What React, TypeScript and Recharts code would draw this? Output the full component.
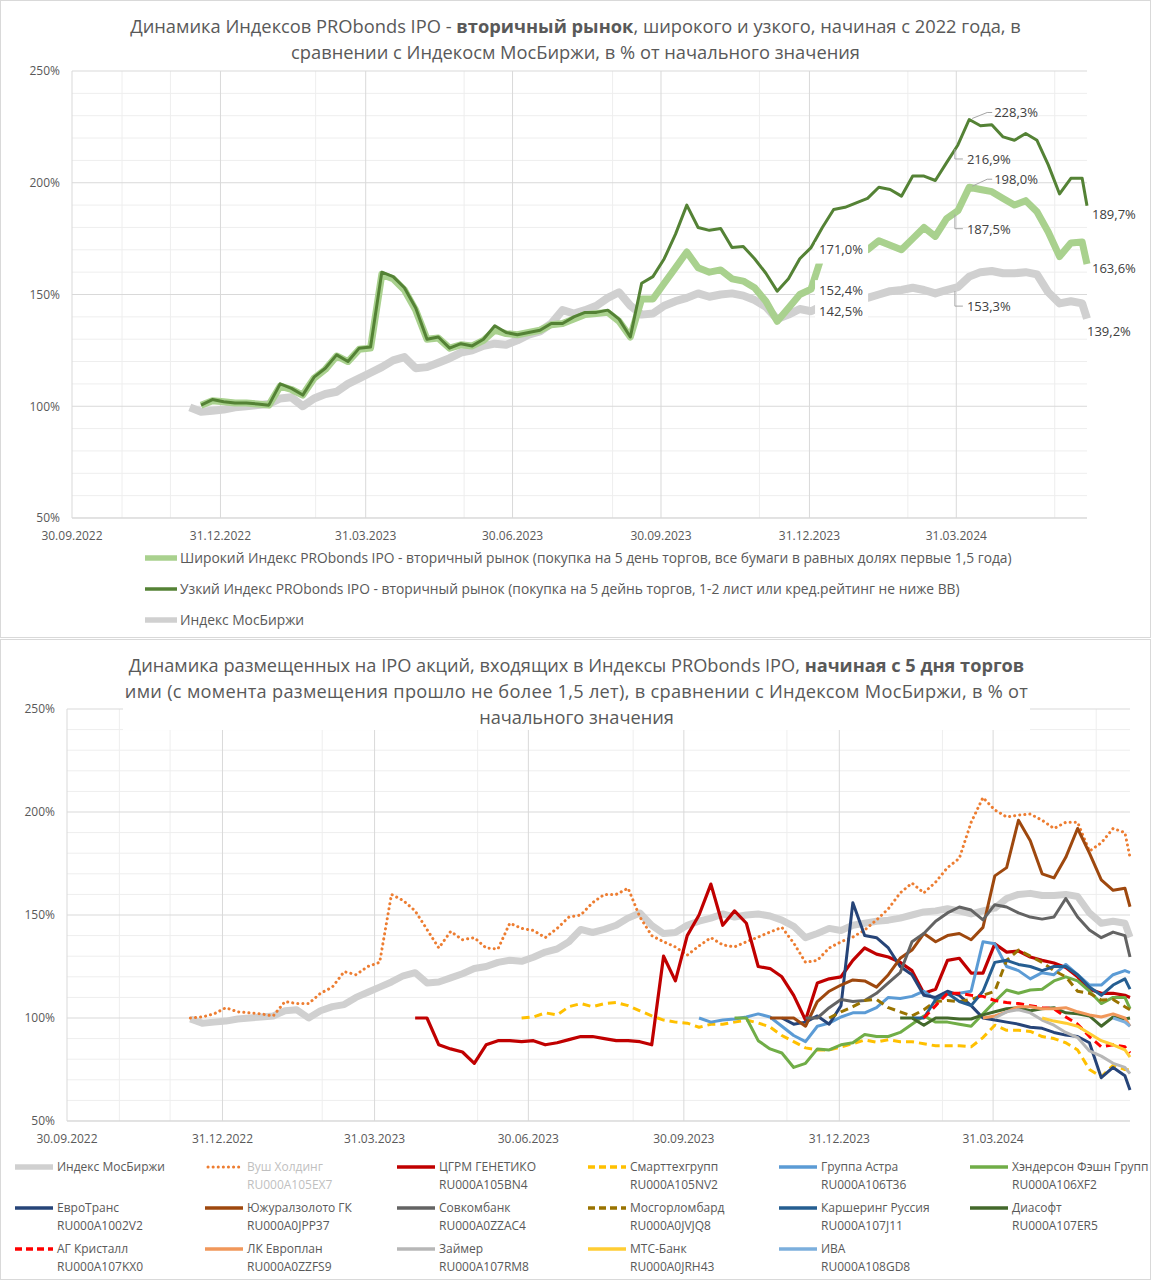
import React from 'react';
import { LineChart, Line, XAxis, YAxis, CartesianGrid } from 'recharts';

// ---------- axis / calendar ----------
const START_UTC = Date.UTC(2022, 8, 30); // 30.09.2022 = day 0
const FIRST_WEEK_DAY = 73; // 12.12.2022
const WEEK_COUNT = 80;
const LAST_DAY = 629; // 20.06.2024
const DAYS: number[] = [...Array.from({ length: WEEK_COUNT }, (_, k) => FIRST_WEEK_DAY + 7 * k), LAST_DAY];

const X_TICKS = [0, 92, 182, 273, 365, 457, 548];
const X_MINOR = [31, 61, 151, 243, 335, 426, 518, 609];
const Y_TICKS = [50, 100, 150, 200, 250];
const Y_MINOR = [60, 70, 80, 90, 110, 120, 130, 140, 160, 170, 180, 190, 210, 220, 230, 240];

// ---------- top chart series (weekly, from start index) ----------
const moexValues = [99.5, 97.5, 98, 98.5, 99.5, 100, 100.5, 101, 103.5, 104, 100, 103.5, 105.5, 106.5, 110, 112.5, 115, 117.5, 120.5, 122, 117, 117.5, 119.5, 121.5, 124, 125, 127, 128, 127.5, 129.5, 132, 133.5, 137, 143, 141.5, 143, 145, 148.5, 151, 145, 141, 141.5, 145, 147, 148.5, 150.5, 149, 150, 150.5, 149.5, 147.5, 144.5, 139, 141, 143.5, 142.5, 145, 146, 147, 147.5, 148.5, 150, 151.5, 152, 153, 152, 150.5, 152, 153.3, 158, 160, 160.5, 159.5, 159.5, 160, 159, 151, 146, 147, 146, 139.2];
const wideValues = [100.5, 102.5, 102, 101.5, 101.5, 101, 100.5, 109, 107.5, 105, 112.5, 116.5, 122.5, 120, 125.5, 126, 159, 157, 152, 143, 130, 130.5, 126, 127.5, 127, 129.5, 134, 132.5, 132, 133, 134, 136.5, 137, 139, 141, 141.5, 142, 138, 131, 148, 148, 155, 162, 169, 162, 160, 161, 157, 156, 153, 147, 138, 144, 150, 152.4, 168, 168.5, 169, 169.5, 170, 174, 172, 170, 175, 180, 176, 184, 187.5, 198.0, 197, 196, 193, 190, 192, 187, 178, 167, 173, 173.5, 163.6];
const narrowValues = [100.5, 103, 102, 101.5, 101.5, 101, 100.5, 110, 108, 105, 113, 117, 123, 120, 126, 126.5, 160, 158, 153, 144, 130, 131, 126, 128, 127, 130, 136, 133, 132, 133, 134, 137, 137, 140, 142, 142, 143, 139, 131, 155, 158, 166, 177, 190, 180, 178.7, 179.5, 171, 171.5, 166, 159.5, 151.5, 157, 166, 171.0, 180, 188, 189, 191, 193, 198, 197, 194, 203, 203, 201, 209, 216.9, 228.3, 225.5, 226, 220.5, 219, 222, 219, 208, 195, 202, 202, 189.7];

// ---------- bottom chart series (weekly, from start index) ----------
const whooshValues = [100, 100.5, 102, 105, 103, 102.5, 102, 101, 108, 107, 107, 112, 115, 122.5, 121, 125, 127, 160, 157, 152, 143, 134, 142, 138, 139, 134, 133.5, 146, 143.5, 142.5, 139, 143.5, 149, 150, 156, 160, 160, 163, 149, 140, 137, 134.5, 130.5, 135, 139, 135.5, 134.5, 137, 139.3, 141.7, 144, 136.4, 127, 128, 134, 137, 139.3, 142.7, 147.6, 153, 160.7, 165.5, 160.7, 166, 173, 177.5, 195, 207, 201, 197.6, 198.5, 199, 196, 192, 195, 195, 181, 185, 192, 190, 178];
const geneticoValues = [100, 100, 87, 85, 83.5, 78, 87, 89, 89, 88.5, 89, 87, 88, 89.5, 91, 91, 90, 89, 89, 88.5, 87, 130, 118, 140, 150, 165, 145, 152, 146, 125, 124, 120, 111, 99, 117, 119, 120, 128, 134, 131, 129.6, 127, 123, 112, 114, 128, 129, 121.8, 121.8, 136, 132, 132.5, 129.6, 128, 126.7, 124.5, 120, 114, 112, 112, 111, 110];
const smartValues = [100, 100.5, 102.5, 101.5, 105.5, 107, 105.5, 107, 107.5, 106, 103.5, 101, 99, 98, 97.5, 95.5, 97, 97, 98, 99, 97.6, 95.6, 91.5, 88.5, 85.5, 84.5, 84.5, 86, 87.5, 89.3, 88.3, 89.5, 88.5, 88.5, 87.5, 86.5, 86.5, 86.5, 86, 90.5, 96.5, 94, 94, 93.5, 91, 90, 88, 84.5, 75, 71.5, 77, 75, 74.8];
const astraValues = [100, 98, 99, 99.5, 100.5, 102, 100.5, 96, 91.5, 88.5, 96, 97.5, 100.5, 102.5, 102.5, 105, 110, 109.5, 110.5, 113, 109, 111.5, 112, 113, 137, 136, 125, 123, 119, 122, 121, 126, 121, 116, 116, 121, 123, 122];
const hendersonValues = [100, 100, 89, 85, 83, 76, 78, 85, 84.5, 87, 88, 92, 91, 91, 93, 97, 101, 98, 98, 97, 96, 102, 108, 113.6, 112, 113.6, 114, 118, 120, 118, 113, 107, 110, 110, 104.5];
const eurotransValues = [100, 97, 98, 101, 97, 106, 156, 140, 139, 134, 125, 121, 111, 110, 113, 111, 106, 100, 99, 98, 97, 95.5, 95, 93, 91.7, 91, 88, 71, 76, 72, 65];
const ugcValues = [100, 100, 100, 96, 108, 113, 116, 118.5, 118, 115, 121, 129, 133, 141, 137, 140, 141, 138, 144, 169, 173, 196, 186, 170, 168, 178, 192, 180, 167, 162, 163, 154];
const sovcomValues = [100, 100, 105, 109, 108, 108.5, 112, 117, 122, 137, 141, 147, 151, 153.9, 152.4, 147.6, 155, 153.9, 151, 149, 148, 149, 158, 149, 142.7, 139, 141.7, 140, 129.6];
const mglbValues = [100, 103, 105.5, 108.5, 109, 105, 103, 101, 104, 108, 108.5, 108, 109, 111, 113, 128, 133, 130, 127, 123, 120, 113, 112, 108.7, 109, 105.5, 104];
const diasoftValues = [100, 100, 96.5, 100, 100, 99.5, 99.5, 101.5, 103, 104.5, 105, 103.5, 104.5, 105, 102.5, 102, 101, 96, 100.5, 99.5, 100];
const carshValues = [100, 100, 109, 112, 108, 106, 113, 127, 128, 126, 125, 123, 125, 125, 121, 115, 111, 116, 119, 114];
const crystalValues = [100, 106, 112, 112, 111, 110.5, 108.5, 107.5, 107, 106, 105, 104.5, 100.5, 97, 91, 86, 87, 86, 83];
const europlanValues = [100, 101, 103, 105.5, 105.5, 104.5, 104.5, 105, 103, 101.5, 100.5, 102, 100, 96];
const zaymerValues = [100, 103, 104, 102.5, 99, 96.5, 93, 90.5, 84, 81.5, 78, 76, 73];
const mtsValues = [100, 98.5, 97.5, 96, 92.5, 89, 87, 84.5, 81];
const ivaValues = [100, 98, 96];

// ---------- series descriptions ----------
type Src = { key: string; start: number; values: number[] };

const TOP_SOURCES: Src[] = [
  { key: 'moex', start: 0, values: moexValues },
  { key: 'wide', start: 1, values: wideValues },
  { key: 'narrow', start: 1, values: narrowValues },
];

const BOTTOM_SOURCES: Src[] = [
  { key: 'moex', start: 0, values: moexValues },
  { key: 'whoosh', start: 0, values: whooshValues },
  { key: 'genetico', start: 19, values: geneticoValues },
  { key: 'smart', start: 28, values: smartValues },
  { key: 'astra', start: 43, values: astraValues },
  { key: 'henderson', start: 46, values: hendersonValues },
  { key: 'eurotrans', start: 50, values: eurotransValues },
  { key: 'ugc', start: 49, values: ugcValues },
  { key: 'sovcom', start: 52, values: sovcomValues },
  { key: 'mglb', start: 54, values: mglbValues },
  { key: 'carsh', start: 61, values: carshValues },
  { key: 'diasoft', start: 60, values: diasoftValues },
  { key: 'crystal', start: 62, values: crystalValues },
  { key: 'europlan', start: 67, values: europlanValues },
  { key: 'zaymer', start: 68, values: zaymerValues },
  { key: 'mts', start: 72, values: mtsValues },
  { key: 'iva', start: 78, values: ivaValues },
];

type Style = { key: string; name: string; code?: string; color: string; width: number; dash?: string; cap?: 'round' | 'butt'; muted?: boolean };

const TOP_STYLES: Style[] = [
  { key: 'wide', name: 'Широкий Индекс PRObonds IPO - вторичный рынок (покупка на 5 день торгов, все бумаги в равных долях первые 1,5 года)', color: '#a9d18e', width: 7 },
  { key: 'narrow', name: 'Узкий Индекс PRObonds IPO - вторичный рынок (покупка на 5 дейнь торгов, 1-2 лист или кред.рейтинг не ниже ВВ)', color: '#548235', width: 3 },
  { key: 'moex', name: 'Индекс МосБиржи', color: '#d0d0d0', width: 8 },
];

const BOTTOM_STYLES: Style[] = [
  { key: 'moex', name: 'Индекс МосБиржи', color: '#d0d0d0', width: 7 },
  { key: 'whoosh', name: 'Вуш Холдинг', code: 'RU000A105EX7', color: '#ed7d31', width: 3, dash: '0.1 5', cap: 'round', muted: true },
  { key: 'genetico', name: 'ЦГРМ ГЕНЕТИКО', code: 'RU000A105BN4', color: '#c00000', width: 3.2 },
  { key: 'smart', name: 'Смарттехгрупп', code: 'RU000A105NV2', color: '#ffc000', width: 3, dash: '8 5' },
  { key: 'astra', name: 'Группа Астра', code: 'RU000A106T36', color: '#5b9bd5', width: 3 },
  { key: 'henderson', name: 'Хэндерсон Фэшн Групп', code: 'RU000A106XF2', color: '#70ad47', width: 3 },
  { key: 'eurotrans', name: 'ЕвроТранс', code: 'RU000A1002V2', color: '#264478', width: 3 },
  { key: 'ugc', name: 'Южуралзолото ГК', code: 'RU000A0JPP37', color: '#9e480e', width: 3 },
  { key: 'sovcom', name: 'Совкомбанк', code: 'RU000A0ZZAC4', color: '#636363', width: 3 },
  { key: 'mglb', name: 'Мосгорломбард', code: 'RU000A0JVJQ8', color: '#997300', width: 3, dash: '8 5' },
  { key: 'carsh', name: 'Каршеринг Руссия', code: 'RU000A107J11', color: '#255e91', width: 3 },
  { key: 'diasoft', name: 'Диасофт', code: 'RU000A107ER5', color: '#43682b', width: 3 },
  { key: 'crystal', name: 'АГ Кристалл', code: 'RU000A107KX0', color: '#ff0000', width: 3, dash: '8 5' },
  { key: 'europlan', name: 'ЛК Европлан', code: 'RU000A0ZZFS9', color: '#f1975a', width: 3 },
  { key: 'zaymer', name: 'Займер', code: 'RU000A107RM8', color: '#b7b7b7', width: 3 },
  { key: 'mts', name: 'МТС-Банк', code: 'RU000A0JRH43', color: '#ffcd33', width: 3 },
  { key: 'iva', name: 'ИВА', code: 'RU000A108GD8', color: '#7cafdd', width: 3 },
];

// ---------- helpers ----------
function buildRows(list: Src[]) {
  return DAYS.map((day, i) => {
    const row: Record<string, number | null> = { day };
    list.forEach((s) => {
      const j = i - s.start;
      row[s.key] = j >= 0 && j < s.values.length ? s.values[j] : null;
    });
    return row;
  });
}

const pad = (n: number) => (n < 10 ? '0' + n : '' + n);
function fmtDate(d: number) {
  const t = new Date(START_UTC + d * 86400000);
  return `${pad(t.getUTCDate())}.${pad(t.getUTCMonth() + 1)}.${t.getUTCFullYear()}`;
}
const fmtPct = (v: number) => v.toFixed(1).replace('.', ',') + '%';

const FONT = "'Open Sans', 'DejaVu Sans', sans-serif";
const TXT = '#595959';

type LabelSpec = { kind: 'box' | 'down' | 'up' | 'end'; dy: number; dx?: number; top?: number; bottom?: number };
const IDX_3112 = 55;
const IDX_3103 = 68;
const IDX_PEAK = 69;
const IDX_LAST = DAYS.length - 1;

const LABELS: Record<string, Record<number, LabelSpec>> = {
  narrow: { [IDX_3112]: { kind: 'box', dy: 1, top: -5, bottom: 16 }, [IDX_3103]: { kind: 'down', dy: 14 }, [IDX_PEAK]: { kind: 'up', dy: -7 }, [IDX_LAST]: { kind: 'end', dy: 8, dx: 5 } },
  wide: { [IDX_3112]: { kind: 'box', dy: 1, top: -9, bottom: 10 }, [IDX_3103]: { kind: 'down', dy: 18 }, [IDX_PEAK]: { kind: 'up', dy: -8 }, [IDX_LAST]: { kind: 'end', dy: 4, dx: 5 } },
  moex: { [IDX_3112]: { kind: 'box', dy: 0, top: -15, bottom: 10 }, [IDX_3103]: { kind: 'down', dy: 19 }, [IDX_LAST]: { kind: 'end', dy: 12, dx: 0 } },
};

function makeLabelDot(key: string) {
  const specs = LABELS[key] || {};
  return (p: any) => {
    const { cx, cy, index } = p;
    const spec = specs[index];
    const v = p.payload ? p.payload[key] : p.value;
    if (!spec || cx == null || cy == null || v == null) return <g key={`n-${key}-${index}`} />;
    const text = fmtPct(v);
    const ts = { fontSize: 13, fill: '#404040', fontFamily: FONT } as const;
    if (spec.kind === 'box') {
      const t = spec.top ?? -10;
      const b = spec.bottom ?? 10;
      return (
        <g key={`l-${key}-${index}`}>
          <rect x={cx + 4} y={cy + t} width={53} height={b - t} fill="#fff" />
          <text x={cx + 8} y={cy + spec.dy} dominantBaseline="central" {...ts}>{text}</text>
        </g>
      );
    }
    if (spec.kind === 'down') {
      const ly = cy + spec.dy;
      return (
        <g key={`l-${key}-${index}`}>
          <polyline points={`${cx - 3},${cy + 4} ${cx - 3},${ly} ${cx + 5},${ly}`} fill="none" stroke="#a6a6a6" strokeWidth={1} />
          <text x={cx + 9} y={ly} dominantBaseline="central" {...ts}>{text}</text>
        </g>
      );
    }
    if (spec.kind === 'up') {
      const ly = cy + spec.dy;
      return (
        <g key={`l-${key}-${index}`}>
          <polyline points={`${cx + 3},${cy - 1} ${cx + 18},${ly} ${cx + 23},${ly}`} fill="none" stroke="#a6a6a6" strokeWidth={1} />
          <text x={cx + 25} y={ly} dominantBaseline="central" {...ts}>{text}</text>
        </g>
      );
    }
    return (
      <g key={`l-${key}-${index}`}>
        <text x={cx + (spec.dx ?? 5)} y={cy + spec.dy} dominantBaseline="central" {...ts}>{text}</text>
      </g>
    );
  };
}

const topRows = buildRows(TOP_SOURCES);
const bottomRows = buildRows(BOTTOM_SOURCES);

function Sample({ s, w }: { s: Style; w: number }) {
  const sw = Math.min(Math.max(s.width, 3.5), 5.5);
  const round = s.cap === 'round';
  return (
    <svg width={w} height={10} style={{ display: 'block' }}>
      <line x1={round ? 3 : 0} y1={5} x2={round ? w - 2 : w} y2={5} stroke={s.color} strokeWidth={round ? 3 : sw}
        strokeDasharray={s.dash ? (round ? '0.1 5' : '7 4') : undefined} strokeLinecap={round ? 'round' : 'butt'} />
    </svg>
  );
}

const LEGEND_COLS = [15, 205, 397, 588, 779, 970];
const LEGEND_ROWS = [1167, 1208, 1249];

export default function App() {
  const topOrder = ['moex', 'wide', 'narrow'];
  return (
    <div style={{ position: 'absolute', left: 0, top: 0, width: 1151, height: 1280, background: '#fff', fontFamily: FONT, overflow: 'hidden' }}>
      {/* panel frames */}
      <div style={{ position: 'absolute', left: 0, top: 0, width: 1151, height: 638, border: '1px solid #d9d9d9', boxSizing: 'border-box' }} />
      <div style={{ position: 'absolute', left: 0, top: 639, width: 1151, height: 641, border: '1px solid #d9d9d9', boxSizing: 'border-box' }} />

      {/* ---------- TOP CHART ---------- */}
      <div style={{ position: 'absolute', left: 0, top: 0 }}>
        <LineChart width={1151} height={637} data={topRows} margin={{ top: 71, right: 64, bottom: 94, left: 0 }}>
          <CartesianGrid horizontalValues={Y_MINOR} verticalValues={X_MINOR} stroke="#eeeeee" />
          <CartesianGrid horizontalValues={Y_TICKS} verticalValues={X_TICKS} stroke="#d9d9d9" />
          <XAxis dataKey="day" type="number" domain={[0, LAST_DAY]} ticks={X_TICKS} interval={0} tickFormatter={fmtDate} height={25}
            tickLine={false} tickSize={0} tickMargin={13} axisLine={{ stroke: '#d9d9d9' }} tick={{ fontSize: 12, fill: TXT, fontFamily: FONT }} />
          <YAxis type="number" domain={[50, 250]} ticks={Y_TICKS} interval={0} width={72} tickFormatter={(v) => `${v}%`}
            axisLine={false} tickLine={false} tickSize={0} tickMargin={12} tick={{ fontSize: 12, fill: TXT, fontFamily: FONT }} />
          {topOrder.map((k) => {
            const s = TOP_STYLES.find((t) => t.key === k)!;
            return (
              <Line key={k} dataKey={k} type="linear" stroke={s.color} strokeWidth={s.width} strokeLinejoin="round"
                dot={makeLabelDot(k)} activeDot={false} isAnimationActive={false} connectNulls={false} />
            );
          })}
        </LineChart>
      </div>
      <div style={{ position: 'absolute', left: 0, top: 13, width: 1151, textAlign: 'center', fontSize: 18.3, lineHeight: '26px', color: TXT, whiteSpace: 'nowrap' }}>
        Динамика Индексов PRObonds IPO - <b>вторичный рынок</b>, широкого и узкого, начиная с 2022 года, в<br />
        сравнении с Индекосм МосБиржи, в % от начального значения
      </div>
      {TOP_STYLES.map((s, i) => (
        <div key={s.key} style={{ position: 'absolute', left: 145, top: 558 + i * 31 - 9, height: 18, display: 'flex', alignItems: 'center', whiteSpace: 'nowrap' }}>
          <Sample s={s} w={32} />
          <span style={{ marginLeft: 3, fontSize: 13.8, color: TXT, lineHeight: '18px' }}>{s.name}</span>
        </div>
      ))}

      {/* ---------- BOTTOM CHART ---------- */}
      <div style={{ position: 'absolute', left: 0, top: 640 }}>
        <LineChart width={1151} height={640} data={bottomRows} margin={{ top: 69, right: 21, bottom: 134, left: 0 }}>
          <CartesianGrid horizontalValues={Y_MINOR} verticalValues={X_MINOR} stroke="#eeeeee" />
          <CartesianGrid horizontalValues={Y_TICKS} verticalValues={X_TICKS} stroke="#d9d9d9" />
          <XAxis dataKey="day" type="number" domain={[0, LAST_DAY]} ticks={X_TICKS} interval={0} tickFormatter={fmtDate} height={25}
            tickLine={false} tickSize={0} tickMargin={13} axisLine={{ stroke: '#d9d9d9' }} tick={{ fontSize: 12, fill: TXT, fontFamily: FONT }} />
          <YAxis type="number" domain={[50, 250]} ticks={Y_TICKS} interval={0} width={67} tickFormatter={(v) => `${v}%`}
            axisLine={false} tickLine={false} tickSize={0} tickMargin={12} tick={{ fontSize: 12, fill: TXT, fontFamily: FONT }} />
          {BOTTOM_STYLES.map((s) => (
            <Line key={s.key} dataKey={s.key} type="linear" stroke={s.color} strokeWidth={s.width} strokeDasharray={s.dash}
              strokeLinecap={s.cap || 'butt'} strokeLinejoin="round" dot={false} activeDot={false} isAnimationActive={false} connectNulls={false} />
          ))}
        </LineChart>
      </div>
      <div style={{ position: 'absolute', left: 123, top: 650, width: 907, height: 80, background: '#fff', textAlign: 'center', fontSize: 18.2, lineHeight: '26px', color: TXT, whiteSpace: 'nowrap', paddingTop: 2, boxSizing: 'border-box' }}>
        Динамика размещенных на IPO акций, входящих в Индексы PRObonds IPO, <b>начиная с 5 дня торгов</b><br />
        <span style={{ letterSpacing: 0.3 }}>ими (с момента размещения прошло не более 1,5 лет), в сравнении с Индексом МосБиржи, в % от</span><br />
        начального значения
      </div>
      {BOTTOM_STYLES.map((s, i) => {
        const col = i % 6;
        const row = Math.floor(i / 6);
        const color = s.muted ? '#bfbfbf' : TXT;
        return (
          <div key={s.key} style={{ position: 'absolute', left: LEGEND_COLS[col], top: LEGEND_ROWS[row] - 9, whiteSpace: 'nowrap' }}>
            <div style={{ display: 'flex', alignItems: 'center', height: 18 }}>
              <Sample s={s} w={38} />
              <span style={{ marginLeft: 4, fontSize: 12, color, lineHeight: '18px' }}>{s.name}</span>
            </div>
            {s.code ? <div style={{ marginLeft: 42, fontSize: 12, color, lineHeight: '18px' }}>{s.code}</div> : null}
          </div>
        );
      })}
    </div>
  );
}
